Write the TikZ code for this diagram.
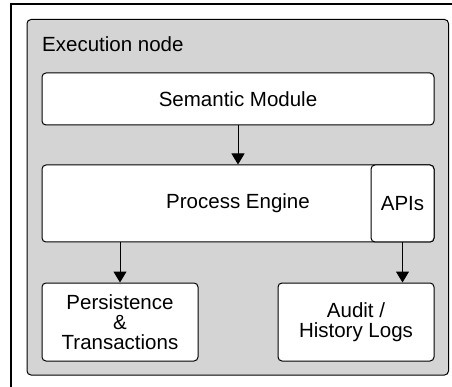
\documentclass[tikz,border=0pt]{standalone}
\usepackage{fontspec}
\setmainfont{Liberation Sans}
\usetikzlibrary{arrows.meta}
\definecolor{panelgray}{HTML}{D4D4D5}
\tikzset{
  box/.style={draw=black, line width=1pt, fill=white, rounded corners=4pt,
    inner sep=0pt, align=center, font=\fontsize{20.5}{20}\selectfont},
  flow/.style={draw=black, line width=1pt, -{Triangle[width=13pt,length=11pt]}},
}
\begin{document}
\begin{tikzpicture}[x=1pt, y=-1pt]
\useasboundingbox (0,0) rectangle (452,387);
% outer frame (top and left edges)
\draw[line width=1.2pt] (452,4) -- (11,4) -- (11,387);
% execution node panel
\draw[line width=1pt, fill=panelgray, rounded corners=4pt] (27,19.5) rectangle (448.5,375);
\node[anchor=base west, inner sep=0pt, font=\fontsize{20.5}{20}\selectfont] (title) at (42,52) {Execution node};
% components
\node[box, minimum width=392pt, minimum height=52pt] (sem) at (238,99) {Semantic Module};
\node[box, minimum width=392pt, minimum height=77pt] (pe) at (238,203.5) {Process Engine};
\node[box, minimum width=63pt, minimum height=77pt] (api) at (402.5,203.5) {APIs};
\node[box, minimum width=156pt, minimum height=78pt] (pers) at (120,322) {Persistence\\\&\\Transactions};
\node[box, minimum width=156pt, minimum height=78pt] (audit) at (356,322) {Audit /\\History Logs};
% connectors
\draw[flow] (sem) -- (pe);
\draw[flow] (pers.north |- pe.south) -- (pers);
\draw[flow] (api.south) -- (api.south |- audit.north);
\end{tikzpicture}
\end{document}
